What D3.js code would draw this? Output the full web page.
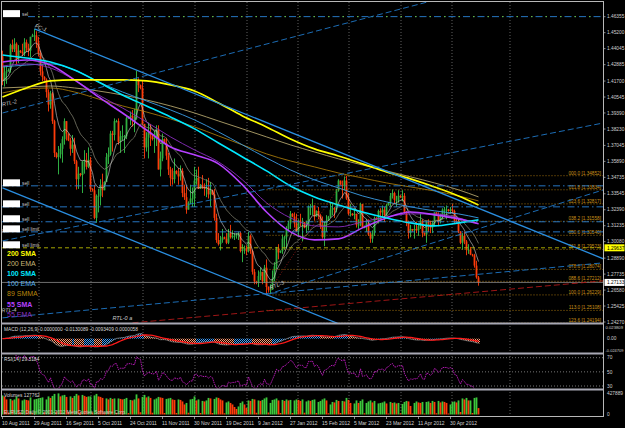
<!DOCTYPE html>
<html>
<head>
<meta charset="utf-8">
<script src="https://cdnjs.cloudflare.com/ajax/libs/d3/7.8.5/d3.min.js"></script>
<style>
  body { margin: 0; background: #000; }
  text { font-family: "Liberation Sans", Arial, sans-serif; }
</style>
</head>
<body>
<div id="chart"></div>
<script>
// EURUSD daily bars, 10 Aug 2011 .. 16 May 2012 (pips above 1.0000), Sunday bars included
const firstOpen = 4350;
const highs = [4390,4280,4280,
  4262,4440,4470,4480,4450,4430, 4395,4440,4480,4470,4440,4490, 4512,4548,4530,4490,4390,4290,
  4205,4190,4110,4100,4090,3890, 3655,3700,3720,3770,3900,3880, 3790,3760,3780,3760,3600,3550,
  3505,3590,3670,3650,3690,3620, 3395,3420,3350,3390,3460,3500, 3445,3650,3690,3810,3810,3900,
  3890,3900,3810,3850,3780,3910, 3915,3950,3960,3970,4245,4190, 4145,4170,3860,3800,3870,3860,
  3785,3810,3850,3850,3660,3790, 3755,3760,3650,3550,3540,3610, 3525,3540,3560,3540,3420,3420,
  3300,3420,3400,3550,3530,3550, 3425,3490,3430,3460,3470,3440, 3385,3390,3210,3070,3050,3100,
  3045,3070,3100,3130,3090,3070, 3070,3080,3080,2990,2980, 2980,3080,3060,2950,2810,
  2725,2800,2820,2790,2840,2880, 2685,2700,2800,2860,2970,2990, 2945,3060,3050,3120,3160,3230,
  3215,3220,3210,3170,3210,3180, 3150,3160,3270,3280,3320,3270, 3235,3260,3210,3190,3150,3200,
  3195,3290,3290,3260,3390,3460, 3450,3450,3480,3485,3360,3280, 3215,3250,3210,3170,3290,3280,
  3125,3170,3170,3080,3090,3190, 3185,3240,3250,3270,3260,3280, 3295,3360,3385,3370,3340,3380,
  3345,3380,3360,3230,3160,3130, 3100,3130,3150,3140,3210,3170, 3075,3160,3170,3160,3160,3220,
  3220,3220,3210,3250,3260,3270, 3245,3260,3280,3240,3180,3170, 3085,3070,3080,3020,2990,2970,
  2920,2920,2870,2760];
const lows = [4140,4130,4150,
  4238,4230,4380,4380,4290,4300, 4372,4350,4350,4380,4350,4340, 4488,4460,4410,4350,4210,4170,
  4172,4050,3950,3970,3860,3620, 3610,3495,3610,3580,3710,3740, 3735,3630,3650,3570,3385,3390,
  3480,3360,3500,3530,3540,3370, 3370,3170,3145,3220,3270,3330, 3380,3440,3570,3630,3660,3740,
  3870,3710,3650,3740,3650,3750, 3895,3850,3840,3800,3890,4090, 4110,3850,3610,3660,3610,3700,
  3740,3650,3700,3530,3480,3590, 3715,3600,3490,3410,3420,3430, 3495,3420,3450,3330,3310,3210,
  3240,3280,3260,3260,3420,3390, 3390,3390,3340,3330,3320,3260, 3345,3160,3000,2980,2945,3000,
  3025,2990,2990,3030,3030,3020, 3030,3020,2930,2860,2920, 2910,2930,2920,2770,2700,
  2700,2680,2730,2700,2710,2625, 2640,2630,2660,2720,2810,2880, 2925,2920,2950,2960,3090,3100,
  3185,3110,3080,3040,3120,3010, 3105,3070,3090,3200,3200,3160, 3190,3170,3100,3030,2975,3080,
  3160,3180,3200,3180,3220,3370, 3415,3320,3380,3310,3200,3190, 3195,3170,3110,3100,3120,3110,
  3105,3080,3050,3000,3000,3050, 3165,3140,3170,3180,3150,3190, 3270,3260,3320,3280,3260,3290,
  3325,3300,3210,3120,3030,3040, 3080,3030,3070,3050,3100,3040, 3050,3000,3080,3070,3070,3120,
  3195,3120,3140,3170,3190,3170, 3225,3210,3210,3140,3140,3070, 2990,2950,2990,2910,2920,2910,
  2900,2820,2740,2690];
const closes = [4170,4230,4240,
  4250,4430,4400,4440,4330,4390, 4380,4370,4450,4410,4390,4490, 4500,4500,4450,4370,4240,4200,
  4180,4090,4000,4080,3880,3650, 3620,3640,3680,3750,3880,3790, 3740,3680,3710,3590,3460,3500,
  3490,3590,3600,3550,3600,3390, 3380,3180,3340,3340,3420,3380, 3440,3620,3640,3790,3780,3880,
  3880,3730,3770,3770,3770,3900, 3910,3920,3900,3900,4170,4140, 4120,3860,3690,3760,3800,3780,
  3750,3760,3820,3530,3610,3750, 3720,3630,3530,3470,3460,3520, 3500,3480,3520,3360,3330,3240,
  3290,3320,3320,3450,3470,3390, 3420,3400,3390,3400,3350,3380, 3350,3180,3020,2990,3020,3040,
  3030,3000,3070,3040,3050,3050, 3060,3070,2940,2950,2960, 2940,3050,2940,2790,2720,
  2710,2760,2790,2720,2820,2680, 2660,2660,2740,2830,2960,2930, 2940,3030,3040,3100,3140,3210,
  3190,3140,3080,3160,3150,3150, 3110,3120,3260,3260,3270,3190, 3230,3200,3120,3040,3140,3160,
  3190,3240,3250,3240,3380,3450, 3420,3410,3450,3320,3210,3210, 3200,3210,3130,3130,3280,3110,
  3120,3140,3060,3030,3070,3180, 3170,3230,3220,3240,3200,3270, 3290,3340,3360,3310,3310,3340,
  3330,3340,3220,3150,3070,3100, 3090,3100,3090,3120,3160,3070, 3060,3150,3140,3110,3140,3220,
  3200,3160,3190,3240,3240,3240, 3230,3240,3230,3160,3150,3080, 3000,3050,3010,2950,2950,2915,
  2910,2835,2750,2713.3];
// tick volume, thousands
const volumes = [380,360,300,
  40,310,280,300,360,320, 35,280,300,290,280,340, 30,300,310,320,330,340,
  45,300,360,330,370,410, 60,420,360,380,390,350, 50,360,330,370,410,380,
  45,390,370,350,360,360, 40,380,410,360,350,330, 40,320,300,330,310,320,
  35,320,310,300,310,330, 30,290,280,300,400,320, 45,350,390,340,360,330,
  35,300,320,350,340,330, 30,310,320,330,300,290, 30,300,290,260,200,230,
  35,300,310,360,280,300, 30,270,260,280,330,320, 30,310,340,330,300,280,
  25,240,260,230,200,150, 110,160,230,260,200, 130,280,270,310,300,
  35,280,270,290,320,340, 40,230,290,300,320,280, 30,290,270,300,280,290,
  30,280,300,290,270,300, 35,260,280,270,290,300, 30,250,270,300,320,280,
  25,200,250,240,290,270, 30,270,260,330,290,230, 25,220,280,230,270,300,
  25,230,260,280,240,270, 20,220,230,240,260,220, 20,250,230,240,220,230,
  25,210,250,270,260,170, 20,230,260,240,230,250, 20,250,260,230,270,250,
  25,270,240,260,250,230, 20,200,250,260,240,280, 50,320,300,330,280,280,
  30,330,340,127.762];

const maIdx = [0,12,24,36,48,60,72,84,96,108,120,132,144,156,168,180,192,204,216,228,238];
const sma200 = [4055,4120,4171,4178,4178,4178,4171,4142,4098,4012,3918,3838,3751,3679,3628,3571,3513,3462,3404,3339,3274];
const ema200 = [4120,4127,4134,4120,4098,4069,4033,3990,3939,3881,3824,3766,3708,3657,3607,3563,3520,3477,3433,3383,3332];
const smma89 = [4084,4113,4120,4091,4040,3990,3946,3896,3838,3773,3708,3643,3592,3549,3505,3469,3433,3404,3375,3339,3303];
const sma100 = [4359,4337,4308,4250,4163,4069,3990,3910,3824,3722,3621,3520,3411,3332,3274,3223,3180,3144,3122,3144,3166];
const ema100 = [4272,4286,4294,4250,4163,4091,4026,3961,3889,3802,3708,3614,3527,3455,3397,3339,3296,3260,3231,3209,3180];
const sma55 = [4308,4322,4286,4178,4055,3939,3816,3693,3636,3571,3419,3223,3079,3021,3028,3108,3180,3223,3202,3173,3137];
const ema55 = [4279,4294,4265,4178,4069,3975,3874,3766,3672,3585,3455,3289,3180,3122,3115,3151,3187,3209,3209,3180,3137];

const priceTicks = [1.46355,1.45200,1.44045,1.42885,1.41700,1.40545,1.39390,1.38230,1.37045,1.35890,
  1.34735,1.33545,1.32390,1.31235,1.30080,1.28890,1.27735,1.26580,1.25425,1.24270];
const dateLabels = ["10 Aug 2011","29 Aug 2011","16 Sep 2011","5 Oct 2011","24 Oct 2011","11 Nov 2011",
  "30 Nov 2011","19 Dec 2011","9 Jan 2012","27 Jan 2012","15 Feb 2012","5 Mar 2012","23 Mar 2012",
  "11 Apr 2012","30 Apr 2012"];
const gridBars = [18.5,44.5,70.5,96.5,122.5,148,173.5,199.5,225,254];

// fibo between 13 Jan low and 29 Feb high
const fibLow = 1.26229, fibHigh = 1.34852, fibFrom = 132, fibTo = 172;
const fibLevels = [0,11.8,23.6,38.2,50,61.8,78.6,88.6,100,113,123.6];

const orderPrices = [1.4636,1.3412,1.3260,1.3152,1.3079,1.29637];
const orderTypes = ["sel","sell","sell","sell","sell limit","sell limit"];
const bidPrice = 1.27133;

// trend lines: [bar, price] anchors
const trendLines = [
  {name:"FC-1", a:[16,1.4548], b:[300.5,1.2884], kind:"solid"},
  {name:"", a:[0,1.3397], b:[172,1.2391], kind:"solid"},
  {name:"RTL-2", a:[0,1.3939], b:[212,1.4740], kind:"dash"},
  {name:"RTL-1", a:[0,1.3014], b:[300.5,1.3867], kind:"dash"},
  {name:"RTL-3", a:[132,1.2625], b:[300.5,1.3383], kind:"dash"},
  {name:"RTL-4", a:[0,1.2457], b:[300.5,1.2855], kind:"dash"},
  {name:"RTL-0 a", a:[65,1.2421], b:[300.5,1.2725], kind:"red"}
];

const legend = [
  {t:"200 SMA", c:"#ffff00", b:true}, {t:"200 EMA", c:"#c8b878", b:false},
  {t:"100 SMA", c:"#00e8ff", b:true}, {t:"100 EMA", c:"#5ab4ee", b:false},
  {t:"89 SMMA", c:"#b8860b", b:false}, {t:"55 SMA", c:"#b540ff", b:true},
  {t:"55 EMA", c:"#8a2fc0", b:false}
];

// ---------------------------------------------------------------
const P = v => 1 + v / 10000;
const n = closes.length;
const C = closes.map(P), Hh = highs.map(P), Ll = lows.map(P);
const O = C.map((c, i) => i === 0 ? P(firstOpen) : C[i - 1]);

const dates = [];
const skipDays = new Set(["2011-12-25", "2012-01-01"]);
const keyFmt = d3.timeFormat("%Y-%m-%d");
for (let d = new Date(2011, 7, 10); dates.length < n; d = d3.timeDay.offset(d, 1)) {
  if (d.getDay() === 6 || skipDays.has(keyFmt(d))) continue;
  dates.push(d);
}
const labelFmt = d3.timeFormat("%-d %b %Y");

const W = 625, H = 428, RX = 603.5;
const x = d3.scaleLinear().domain([0, 300.5]).range([2, 603]);
const y = d3.scaleLinear().domain([1.24270, 1.46355]).range([322, 16.7]);
const yM = d3.scaleLinear().domain([-0.024709, 0.023809]).range([350, 327.7]);
const yR = d3.scaleLinear().domain([30, 70]).range([386, 357.7]);
const yV = d3.scaleLinear().domain([0, 427889]).range([414.5, 393]);

const svg = d3.select("#chart").append("svg").attr("width", W).attr("height", H);
svg.append("rect").attr("width", W).attr("height", H).attr("fill", "#000");
const defs = svg.append("defs");
function clip(id, y0, y1) {
  defs.append("clipPath").attr("id", id).append("rect")
    .attr("x", 2).attr("y", y0).attr("width", RX - 2).attr("height", y1 - y0);
}
clip("cMain", 2, 323); clip("cMacd", 325, 352.5); clip("cRsi", 355, 388.5); clip("cVol", 391, 416);
function dots(id, color) {
  const p = defs.append("pattern").attr("id", id).attr("width", 2).attr("height", 2)
    .attr("patternUnits", "userSpaceOnUse");
  p.append("rect").attr("width", 1).attr("height", 1).attr("fill", color);
  p.append("rect").attr("x", 1).attr("y", 1).attr("width", 1).attr("height", 1).attr("fill", color);
}
dots("dBlue", "#3aa0ff"); dots("dSalmon", "#ff9a70");

const cx = i => x(i) + 0.5;

// grid
svg.append("g").selectAll("line").data(gridBars).join("line")
  .attr("x1", d => x(d)).attr("x2", d => x(d)).attr("y1", 2).attr("y2", 416)
  .attr("stroke", "#8a8a8a").attr("stroke-width", 0.7).attr("stroke-dasharray", "1,2");

// ---------------- main panel
const main = svg.append("g").attr("clip-path", "url(#cMain)");

// candles
const candles = main.append("g").selectAll("g").data(d3.range(n)).join("g");
candles.append("line")
  .attr("x1", cx).attr("x2", cx)
  .attr("y1", i => y(Hh[i])).attr("y2", i => y(Ll[i]))
  .attr("stroke", i => C[i] >= O[i] ? "#33c24a" : "#ff3c0a").attr("stroke-width", 0.9);
candles.append("rect")
  .attr("x", i => cx(i) - 0.9).attr("width", 1.8)
  .attr("y", i => y(Math.max(O[i], C[i])))
  .attr("height", i => Math.max(0.8, Math.abs(y(O[i]) - y(C[i]))))
  .attr("fill", i => C[i] >= O[i] ? "#2fae40" : "#ff3c0a");

// short EMAs computed from closes
function ema(arr, p) {
  const k = 2 / (p + 1); let prev = arr[0];
  return arr.map((v, i) => (prev = i ? v * k + prev * (1 - k) : v));
}
const lineIdx = d3.line().x((v, i) => cx(i)).y(v => y(v));
main.append("path").attr("d", lineIdx(ema(C, 21))).attr("fill", "none")
  .attr("stroke", "#8c8c7a").attr("stroke-width", 0.7);
main.append("path").attr("d", lineIdx(ema(C, 8))).attr("fill", "none")
  .attr("stroke", "#d8d8d8").attr("stroke-width", 0.6);

// long MAs
const maLine = d3.line().x((v, k) => cx(maIdx[k])).y(v => y(P(v))).curve(d3.curveMonotoneX);
[[ema200, "#c8b878", 0.8], [smma89, "#b8860b", 0.8], [ema100, "#3c9ee6", 0.9],
 [ema55, "#8a2fc0", 0.9], [sma55, "#b540ff", 1.6], [sma100, "#00e8ff", 1.6], [sma200, "#ffff00", 1.7]]
  .forEach(([v, c, w]) => main.append("path").attr("d", maLine(v)).attr("fill", "none")
    .attr("stroke", c).attr("stroke-width", w));

// fibo
const fibY = l => fibHigh - (fibHigh - fibLow) * l / 100;
main.append("line").attr("x1", cx(fibFrom)).attr("y1", y(fibLow)).attr("x2", cx(fibTo)).attr("y2", y(fibHigh))
  .attr("stroke", "#b02020").attr("stroke-width", 0.8).attr("stroke-dasharray", "1,2");
const fib = main.append("g").selectAll("g").data(fibLevels).join("g");
fib.append("line").attr("x1", cx(fibFrom)).attr("x2", RX).attr("y1", l => y(fibY(l))).attr("y2", l => y(fibY(l)))
  .attr("stroke", "#c58a10").attr("stroke-width", 0.8).attr("stroke-dasharray", "1,2");
fib.append("text").attr("x", 601).attr("y", l => y(fibY(l)) - 1.2).attr("text-anchor", "end")
  .attr("font-size", 4.7).attr("fill", "#c89018")
  .text(l => d3.format("05.1f")(l) + " [" + fibY(l).toFixed(5) + "]");

// order lines
orderPrices.forEach((p, k) => {
  const last = k === orderPrices.length - 1;
  main.append("line").attr("x1", k === 0 ? 28 : 2).attr("x2", RX).attr("y1", y(p)).attr("y2", y(p))
    .attr("stroke", last ? "#b8b800" : "#2a82d6").attr("stroke-width", 0.9)
    .attr("stroke-dasharray", last ? "4,3" : "7,3,1.5,3");
  if (k === 0) {
    // green dots between the blue dashes of the top line
    main.append("line").attr("x1", 28).attr("x2", RX).attr("y1", y(p)).attr("y2", y(p))
      .attr("stroke", "#7ac81e").attr("stroke-width", 0.9)
      .attr("stroke-dasharray", "1.5,13").attr("stroke-dashoffset", -10);
  }
});
// bid line
main.append("line").attr("x1", 2).attr("x2", RX).attr("y1", y(bidPrice)).attr("y2", y(bidPrice))
  .attr("stroke", "#8a8a8a").attr("stroke-width", 0.8);

// trend lines
trendLines.forEach(t => {
  const st = t.kind === "red" ? "#b01818" : (t.kind === "solid" ? "#2a8ee0" : "#1f78c8");
  main.append("line").attr("x1", cx(t.a[0])).attr("y1", y(t.a[1])).attr("x2", cx(t.b[0])).attr("y2", y(t.b[1]))
    .attr("stroke", st).attr("stroke-width", t.kind === "solid" ? 1.3 : 0.9)
    .attr("stroke-dasharray", t.kind === "solid" ? null : "6,3");
});
// trend line labels
const tl = (txt, i, p, ang) => main.append("text").attr("font-size", 5.5).attr("fill", "#c8c8c8")
  .attr("font-style", "italic")
  .attr("transform", `translate(${cx(i)},${y(p)}) rotate(${ang})`).text(txt);
tl("FC-1", 16, 1.4560, 22);
tl("RTL-2", 0, 1.3985, -14);
tl("RTL-1", -0.5, 1.3070, -8);
tl("RTL-3", 134, 1.2660, -22);
tl("RTL-4", -0.5, 1.2495, -4);
tl("RTL-0 a", 55, 1.2440, 0);

// order labels (hidden tickets)
orderPrices.forEach((p, k) => {
  main.append("rect").attr("x", 3).attr("y", y(p) - 6.5).attr("width", 17).attr("height", 7).attr("fill", "#fff");
  main.append("text").attr("x", 22).attr("y", y(p) - 0.5).attr("font-size", 4.8).attr("fill", "#c8c8c8").text(orderTypes[k]);
});

// legend
legend.forEach((d, k) => {
  svg.append("text").attr("x", 7).attr("y", 256 + k * 10.1).attr("font-size", 7)
    .attr("font-weight", d.b ? "bold" : "normal").attr("fill", d.c).text(d.t);
});

// ---------------- MACD (histogram from zero, coloured against the signal line)
const e12 = ema(C, 12), e26 = ema(C, 26);
const macd = e12.map((v, i) => v - e26[i]);
const signal = macd.map((v, i) => d3.mean(macd.slice(Math.max(0, i - 8), i + 1)));
const gM = svg.append("g").attr("clip-path", "url(#cMacd)");
gM.selectAll("rect").data(d3.range(n)).join("rect")
  .attr("x", i => x(i)).attr("width", 2)
  .attr("y", i => Math.min(yM(macd[i]), yM(0)))
  .attr("height", i => Math.abs(yM(macd[i]) - yM(0)))
  .attr("fill", i => macd[i] >= signal[i] ? "url(#dBlue)" : "url(#dSalmon)");
gM.append("path").attr("d", d3.line().x((v, i) => cx(i)).y(v => yM(v))(macd))
  .attr("fill", "none").attr("stroke", "#9a9a9a").attr("stroke-width", 0.7);
gM.append("path").attr("d", d3.line().x((v, i) => cx(i)).y(v => yM(v))(signal))
  .attr("fill", "none").attr("stroke", "#ff1a1a").attr("stroke-width", 1.3);

// ---------------- RSI
function rsi(arr, p) {
  let ag = 0, al = 0; const out = [null];
  for (let i = 1; i < arr.length; i++) {
    const d = arr[i] - arr[i - 1], g = Math.max(d, 0), l = Math.max(-d, 0);
    const m = Math.min(i, p);
    ag = (ag * (m - 1) + g) / m; al = (al * (m - 1) + l) / m;
    out.push(al === 0 ? 100 : 100 - 100 / (1 + ag / al));
  }
  return out;
}
const rs = rsi(C, 14);
const gR = svg.append("g");
[70, 50, 30].forEach(l => gR.append("line").attr("x1", 2).attr("x2", RX).attr("y1", yR(l)).attr("y2", yR(l))
  .attr("stroke", "#a8a8a8").attr("stroke-width", 0.7).attr("stroke-dasharray", "1,2"));
svg.append("g").attr("clip-path", "url(#cRsi)").append("path")
  .attr("d", d3.line().defined(v => v !== null).x((v, i) => cx(i)).y(v => yR(v))(rs))
  .attr("fill", "none").attr("stroke", "#e020e0").attr("stroke-width", 0.8).attr("stroke-dasharray", "1.5,0.8");

// ---------------- Volumes
svg.append("g").attr("clip-path", "url(#cVol)").selectAll("rect").data(d3.range(n)).join("rect")
  .attr("x", i => cx(i) - 0.9).attr("width", 1.8)
  .attr("y", i => yV(volumes[i] * 1000)).attr("height", i => yV(0) - yV(volumes[i] * 1000))
  .attr("fill", i => i === 0 || volumes[i] >= volumes[i - 1] ? "#3cc83c" : "#ff3c0a");

// ---------------- frames & separators
svg.append("rect").attr("x", 1.5).attr("y", 1.5).attr("width", RX - 1.5).attr("height", 415)
  .attr("fill", "none").attr("stroke", "#b8b8b8").attr("stroke-width", 1);
[323.5, 353.5, 389.5].forEach(yy => svg.append("line").attr("x1", 1).attr("x2", RX).attr("y1", yy).attr("y2", yy)
  .attr("stroke", "#a8a8b4").attr("stroke-width", 2));

// right axis
const axG = svg.append("g");
const rLabel = (yy, txt, fs) => axG.append("text").attr("x", fs ? 605.5 : 607).attr("y", yy + 1.7)
  .attr("font-size", fs || 4.8).attr("fill", "#d0d0d0").text(txt);
priceTicks.forEach(p => {
  axG.append("line").attr("x1", RX).attr("x2", RX + 2).attr("y1", y(p)).attr("y2", y(p)).attr("stroke", "#c0c0c0").attr("stroke-width", 0.7);
  rLabel(y(p), p.toFixed(5));
});
[[bidPrice, "#ffffff"], [orderPrices[5], "#ffff00"]].forEach(([p, bg]) => {
  axG.append("rect").attr("x", RX + 1).attr("y", y(p) - 3.5).attr("width", 20).attr("height", 7).attr("fill", bg);
  axG.append("text").attr("x", 607).attr("y", y(p) + 1.7).attr("font-size", 4.8).attr("fill", "#000").text(p.toFixed(5));
});
rLabel(yM(0.023809), "0.023809", 4.2); rLabel(yM(0), "0.00"); rLabel(yM(-0.024709), "-0.024709", 4.0);
rLabel(yR(70), "70"); rLabel(yR(50), "50"); rLabel(yR(30), "30");
rLabel(yV(427889), "427889"); rLabel(yV(0) - 0.5, "0");

// bottom axis
dateLabels.forEach(lbl => {
  const i = dates.findIndex(d => labelFmt(d) === lbl);
  svg.append("line").attr("x1", cx(i)).attr("x2", cx(i)).attr("y1", 416).attr("y2", 419).attr("stroke", "#c0c0c0").attr("stroke-width", 0.7);
  svg.append("text").attr("x", x(i)).attr("y", 424.5).attr("font-size", 5).attr("fill", "#d0d0d0").text(lbl);
});

// panel captions
const cap = (yy, txt) => svg.append("text").attr("x", 4).attr("y", yy).attr("font-size", 4.8).attr("fill", "#d8d8d8").text(txt);
cap(330.5, "MACD (12,26,9) 0.0000000 -0.0130089 -0.0093409 0.0000058");
cap(360.5, "RSI(14) 29.3184");
cap(396.5, "Volumes 127762");
svg.append("text").attr("x", 4).attr("y", 414).attr("font-size", 4.8).attr("fill", "#c8c8c8")
  .text("EURUSD,Daily  \u00a9 2001-2012 MetaQuotes Software Corp.");
</script>
</body>
</html>
